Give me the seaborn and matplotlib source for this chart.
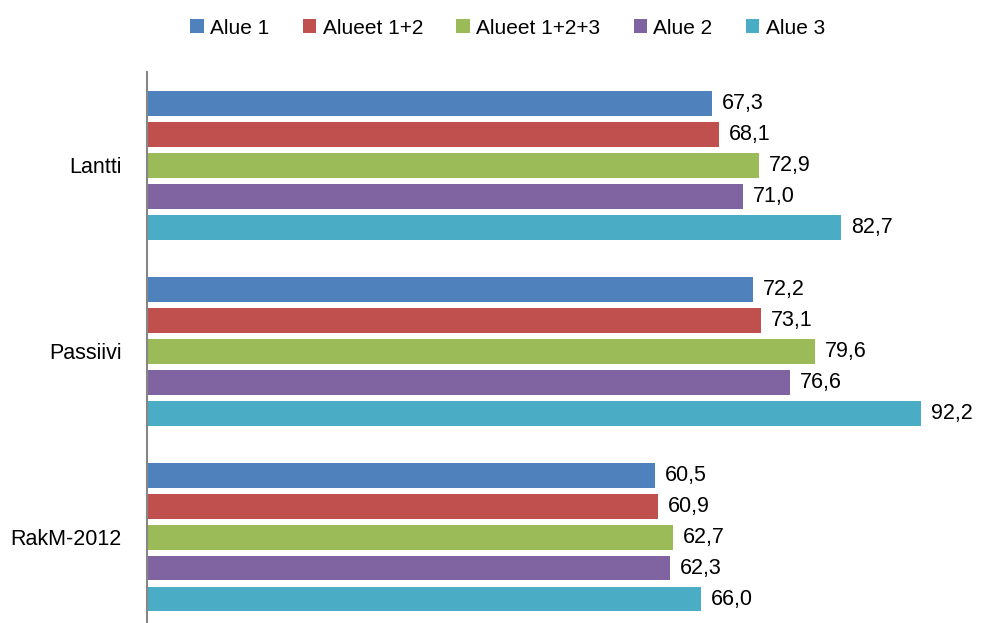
import matplotlib
matplotlib.use("Agg")
import matplotlib.pyplot as plt
import seaborn as sns
import pandas as pd
from matplotlib.patches import Patch

categories = ["Lantti", "Passiivi", "RakM-2012"]
series = ["Alue 1", "Alueet 1+2", "Alueet 1+2+3", "Alue 2", "Alue 3"]
values = {
    "Alue 1": [67.3, 72.2, 60.5],
    "Alueet 1+2": [68.1, 73.1, 60.9],
    "Alueet 1+2+3": [72.9, 79.6, 62.7],
    "Alue 2": [71.0, 76.6, 62.3],
    "Alue 3": [82.7, 92.2, 66.0],
}
colors = ["#4F81BD", "#C0504D", "#9BBB59", "#8064A2", "#4BACC6"]

rows = []
for s in series:
    for c, v in zip(categories, values[s]):
        rows.append({"cat": c, "series": s, "value": v})
df = pd.DataFrame(rows)

sns.set_theme(style="white")
plt.rcParams["font.family"] = ["Liberation Sans", "DejaVu Sans"]

fig = plt.figure(figsize=(9.82, 6.23), dpi=100)
ax = fig.add_axes([147 / 982, 0.0, 1 - 147 / 982, 1 - 72 / 623])

sns.barplot(data=df, y="cat", x="value", hue="series", order=categories,
            hue_order=series, palette=colors, orient="h", width=0.833,
            gap=0.2, ax=ax, legend=False, saturation=1, edgecolor="none")

for cont, s in zip(ax.containers, series):
    ax.bar_label(cont, labels=[f"{v:.1f}".replace(".", ",") for v in values[s]],
                 padding=7, fontsize=15.5, color="black")

ax.set_xlim(0, 99.46)
ax.set_ylim(2.462, -0.503)
ax.set_xlabel("")
ax.set_ylabel("")
ax.set_xticks([])
ax.tick_params(axis="y", length=0, pad=18, labelsize=15.5, labelcolor="black")
for sp in ["top", "right", "bottom"]:
    ax.spines[sp].set_visible(False)
ax.spines["left"].set_color("#868686")
ax.spines["left"].set_linewidth(1.5)

handles = [Patch(facecolor=c, edgecolor="none") for c in colors]
fig.legend(handles, series, loc="upper center", bbox_to_anchor=(0.517, 1.0),
           ncol=5, frameon=False, fontsize=15, handlelength=0.65,
           handleheight=0.65, handletextpad=0.3, columnspacing=1.6,
           labelcolor="black")

fig.savefig("out.png", dpi=100)
